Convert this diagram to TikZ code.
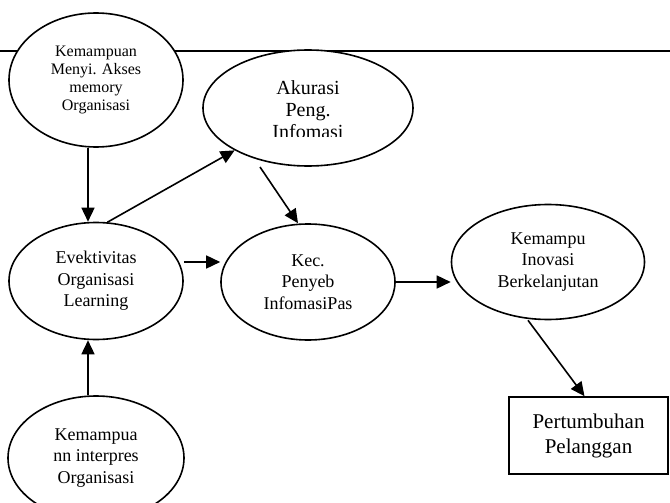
\documentclass[tikz,border=0pt]{standalone}
\usepackage{fontspec}
\setmainfont{Liberation Serif}
\usetikzlibrary{shapes.geometric,arrows.meta,calc}
\begin{document}
\begin{tikzpicture}[x=1pt,y=-1pt,
  oval/.style={ellipse,draw,line width=1.6pt,fill=white,inner sep=0pt,align=center,
    font=\fontsize{18}{21.5}\selectfont},
  boxnode/.style={rectangle,draw,line width=1.6pt,fill=white,inner sep=0pt,align=center,
    font=\fontsize{21}{25}\selectfont},
  link/.style={line width=1.6pt,-{Triangle[length=14pt,width=13pt]}}]
\useasboundingbox (0,0) rectangle (670,503);

% header rule across the top
\draw[line width=2pt] (0,51) -- (670,51);

% constructs
\node[oval,minimum width=174pt,minimum height=134pt,font=\fontsize{16}{18}\selectfont]
  (A) at (96,80) {Kemampuan\\Menyi. Akses\\memory\\Organisasi};
\node[oval,minimum width=210pt,minimum height=116pt] (B) at (308,108) {};
\begin{scope}
  \clip (203,51) rectangle (413,136);
  \node[font=\fontsize{20}{22}\selectfont,align=center,inner sep=0pt]
    (Btext) at (308,110) {Akurasi\\Peng.\\Infomasi};
\end{scope}
\node[oval,minimum width=174pt,minimum height=117pt]
  (C) at (96,281) {Evektivitas\\Organisasi\\Learning};
\node[oval,minimum width=174pt,minimum height=116pt]
  (D) at (308,282) {Kec.\\Penyeb\\InfomasiPas};
\node[oval,minimum width=193pt,minimum height=115pt]
  (E) at (548,262) {Kemampu\\Inovasi\\Berkelanjutan};
\node[oval,minimum width=176pt,minimum height=124pt]
  (F) at (96,458) {Kemampua\\nn interpres\\Organisasi};
\node[boxnode,minimum width=159pt,minimum height=77pt]
  (G) at (588.5,435.5) {Pertumbuhan\\Pelanggan};

% relations
\draw[link] ([xshift=-8pt]A.south) -- ([xshift=-8pt]C.north);
\draw[link] ([xshift=-8pt]F.north) -- ([xshift=-8pt]C.south);
\draw[link] (C.79) -- (B.210);
\draw[link] ($(B.center)+(-48,59)$) -- ([xshift=-10pt]D.north);
\draw[link] ([yshift=19pt]C.east) -- ([yshift=20pt]D.west);
\draw[link] (D.east) -- (D.east -| E.west);
\draw[link] ([xshift=-20pt]E.south) -- ([xshift=-4pt]G.north);
\end{tikzpicture}
\end{document}
